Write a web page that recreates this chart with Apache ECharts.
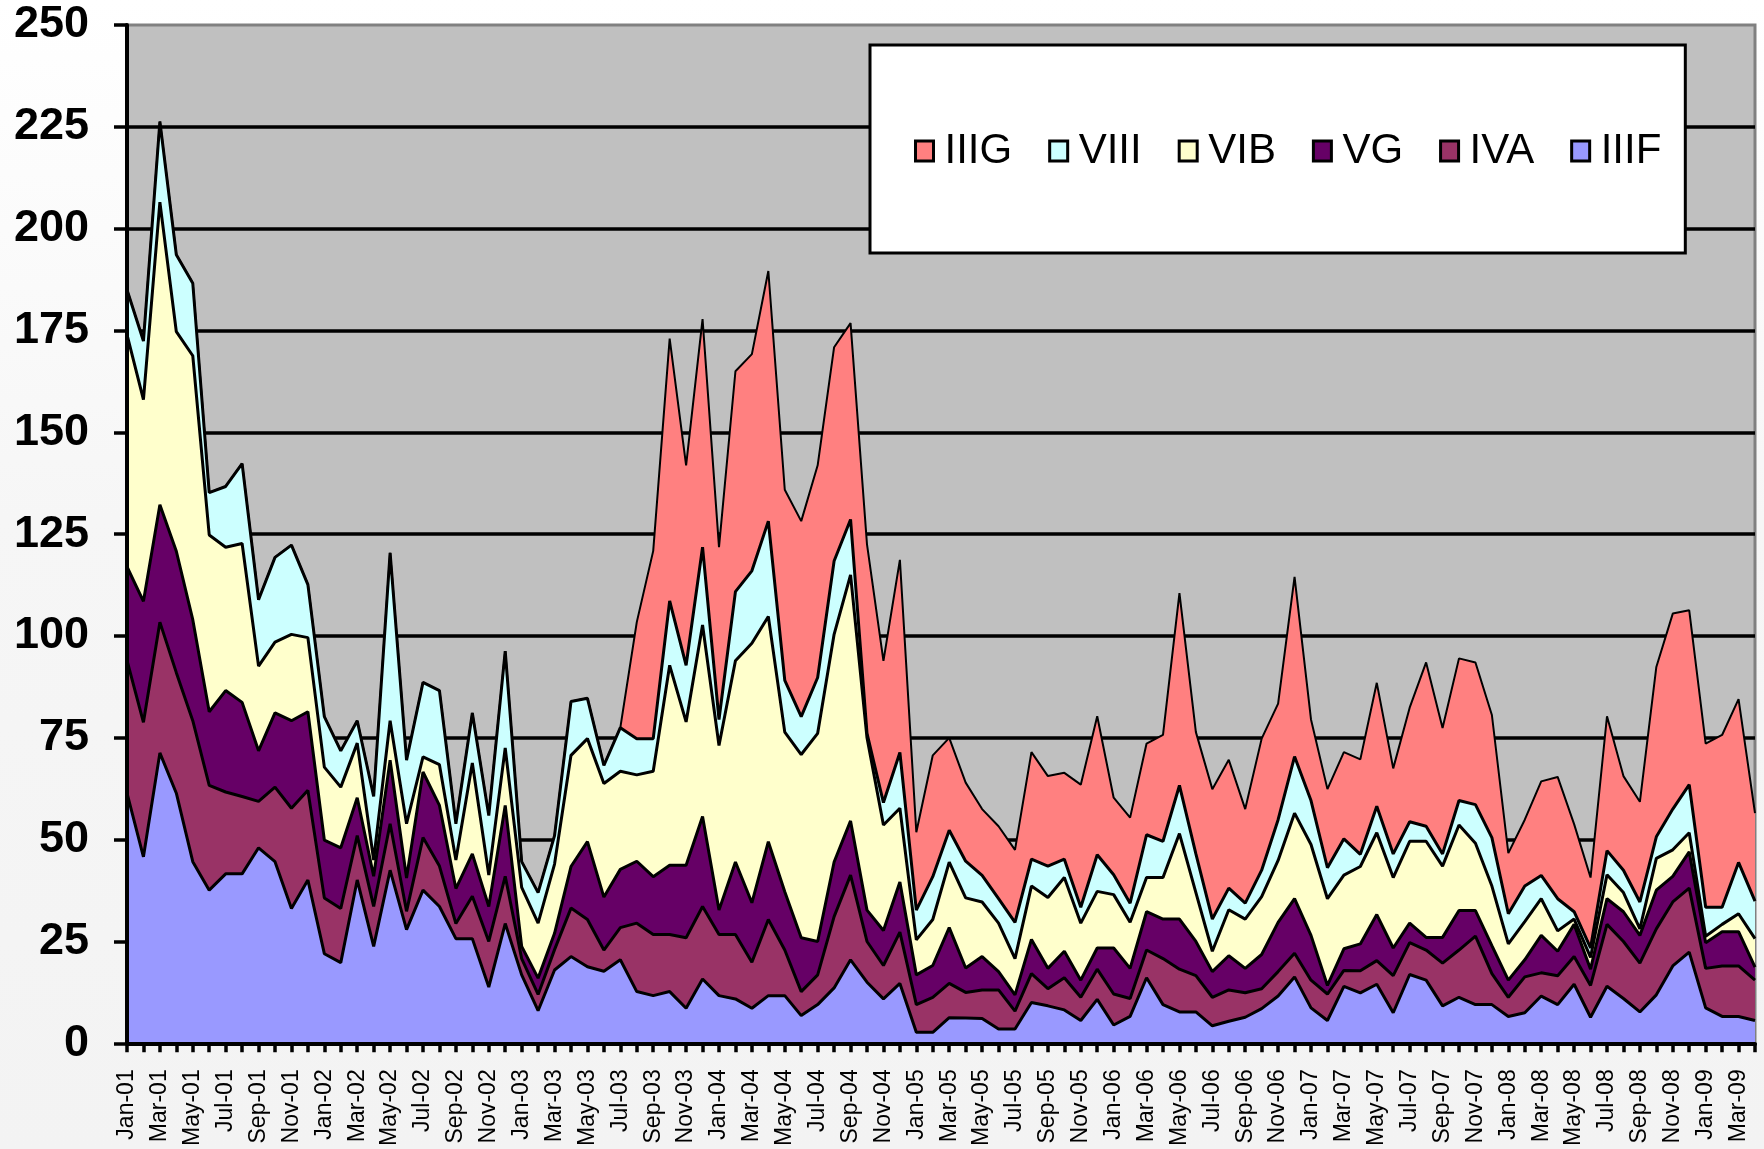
<!DOCTYPE html>
<html>
<head>
<meta charset="utf-8">
<script src="https://cdn.jsdelivr.net/npm/echarts@6/dist/echarts.min.js"></script>
<style>
  html, body { margin: 0; padding: 0; }
  body { background: linear-gradient(to bottom, #ffffff 0%, #f6f6f6 45%, #f3f3f3 100%); }
  #chart { width: 1764px; height: 1149px; }
</style>
</head>
<body>
<div id="chart"></div>
<script>
var months = [
  'Jan-01','Feb-01','Mar-01','Apr-01','May-01','Jun-01','Jul-01','Aug-01','Sep-01','Oct-01','Nov-01','Dec-01',
  'Jan-02','Feb-02','Mar-02','Apr-02','May-02','Jun-02','Jul-02','Aug-02','Sep-02','Oct-02','Nov-02','Dec-02',
  'Jan-03','Feb-03','Mar-03','Apr-03','May-03','Jun-03','Jul-03','Aug-03','Sep-03','Oct-03','Nov-03','Dec-03',
  'Jan-04','Feb-04','Mar-04','Apr-04','May-04','Jun-04','Jul-04','Aug-04','Sep-04','Oct-04','Nov-04','Dec-04',
  'Jan-05','Feb-05','Mar-05','Apr-05','May-05','Jun-05','Jul-05','Aug-05','Sep-05','Oct-05','Nov-05','Dec-05',
  'Jan-06','Feb-06','Mar-06','Apr-06','May-06','Jun-06','Jul-06','Aug-06','Sep-06','Oct-06','Nov-06','Dec-06',
  'Jan-07','Feb-07','Mar-07','Apr-07','May-07','Jun-07','Jul-07','Aug-07','Sep-07','Oct-07','Nov-07','Dec-07',
  'Jan-08','Feb-08','Mar-08','Apr-08','May-08','Jun-08','Jul-08','Aug-08','Sep-08','Oct-08','Nov-08','Dec-08',
  'Jan-09','Feb-09','Mar-09','Apr-09'
];

// stacked from the bottom up
var iiif = [
  61.4,45.8,71.3,61.4,44.6,37.6,41.6,41.6,48,44.6,33.1,40.1,
  22,19.8,40.1,23.8,42.5,27.9,37.6,33.6,25.7,25.7,13.8,29.4,
  16.8,8,18,21.3,18.8,17.7,20.5,12.7,11.7,12.7,8.6,15.8,
  11.7,10.9,8.6,11.7,11.7,6.8,9.5,13.6,20.5,15,10.9,14.7,
  2.7,2.7,6.3,6.2,6.1,3.5,3.5,10,9.2,8.2,5.6,10.8,
  4.5,6.6,16.1,9.5,7.7,7.7,4.3,5.4,6.4,8.5,11.6,16.3,
  8.7,5.6,14,12.4,14.5,7.5,16.9,15.5,9.2,11.3,9.5,9.5,
  6.6,7.5,11.6,9.5,14.5,6.4,14,11,7.7,11.9,19,22.4,
  8.7,6.6,6.6,5.6
];
var iva = [
  32.6,33,32.1,29.6,34.6,25.7,20.1,19,11.4,18.3,24.6,22,
  13.7,13.3,10.9,9.8,11.4,4.5,12.9,9.9,3.7,10.4,11.2,11.6,
  4,4,5,11.9,11.6,5.2,7.9,16.8,15,14,17.3,17.8,
  15,15.8,11.3,18.7,11.2,5.9,7.3,17.5,20.8,10,8.2,12.6,
  6.8,8.6,8.4,6.3,7,9.6,4.4,7.1,4.2,7.9,5.7,7.4,
  7.6,4.4,6.8,11.3,10.5,8.9,7,7.7,6,4.9,6,5.8,
  6.8,6.5,3.9,5.4,5.8,9.1,7.8,7.4,10.5,11.6,16.8,7.6,
  4.7,8.8,5.7,7.1,6.8,7.8,15.2,14,12,16.2,15.7,15.7,
  9.7,12.4,12.4,9.9
];
var vg = [
  23,29.7,28.8,29.8,24.8,18.1,24.9,23.1,12.4,18.2,21.5,19.3,
  14.2,14.9,9.3,7.4,15.6,8.2,16.1,14.9,8.6,10.4,8.6,17.4,
  3,4,4,10.2,19.1,13,14.3,15.2,14.2,17,17.8,22.1,
  6,17.8,14.6,19.1,14.3,13.2,8.2,13.4,13.3,7.7,8.6,12.3,
  7.3,7.8,13.7,6,8.2,4.5,4,8.4,5,6.5,4.2,5.2,
  11.3,7.4,9.4,9.7,12.3,8.4,6.3,8.4,6,8.4,12.1,13.4,
  11,2.1,5.3,6.6,11.3,6.8,4.8,3.1,6.3,9.7,6.3,6.9,
  4.2,4.2,9.2,6,7.9,4,6.3,7.3,6.8,9.5,6.3,8.9,
  6.3,8.4,8.4,3.2
];
var vib = [
  57,49.5,74.3,53.9,64.8,43.4,35.2,39,20.8,17.4,21.2,18.2,
  17.9,14.9,13.4,4,9.7,13.3,3.7,10,7,22.3,7.7,14.1,
  14.5,13.5,17,27.3,25.3,27.9,24.1,21.2,25.9,49.1,35.2,47,
  40.4,49.4,63.7,55.3,39.2,45,51.1,55.9,60.4,42.3,25.9,18.1,
  8.6,11.3,16.1,17.2,13.4,11.9,8.9,13.1,17.4,18.1,14,13.9,
  13.1,11.3,8.4,10.2,21,12,5,11.3,12.1,14.2,15.2,21,
  22.3,21.3,18.1,19,20.1,17.3,20.1,23.6,17.5,21,16.5,14.6,
  8.9,9.4,9,5,1.3,2.9,5.9,4.7,1.6,7.8,6.5,4.7,
  1.6,1.8,4.4,7
];
var viii = [
  11,14.4,19.8,18.9,17.8,10.4,14.9,19.6,16.3,20.8,21.9,13,
  12.4,8.9,5.5,15.6,41.2,15.6,18.3,18.2,8.9,12.3,14.6,23.8,
  6.3,7.5,7,13.2,9.9,4.4,10.7,8.9,8,15.8,13.9,19.1,
  6.4,17,17.8,23.4,12.7,9.3,13.7,18,13.6,1.1,5.5,13.7,
  7.3,10.5,7.8,9,6.5,6,8.9,6.6,7.7,4.5,3.9,9,
  4.9,4.7,10.5,8.9,11.8,9.5,7.9,5.3,3.9,6.5,10,13.9,
  10.8,7.6,8.9,3,6.5,5.8,4.8,3.7,3,6,9.5,11.9,
  7.4,8.7,5.7,7.9,1.8,2.3,5.9,5.5,6.6,5.3,10,11.8,
  7.1,4.2,12.6,9.2
];
var iiig = [
  0,0,0,0,0,0,0,0,0,0,0,0,
  0,0,0,0,0,0,0,0,0,0,0,0,
  0,0,0,0,0,0,0,28.6,46.1,64.4,49.1,56,
  42.3,54.1,53.2,61.4,46.8,48,52.1,52.5,48.2,46.4,34.8,47.3,
  19.1,29.8,22.7,19.3,16.3,17.8,17.8,26.3,22.1,21.2,30.1,34,
  18.9,21,22.4,26.1,47.2,29.9,31.9,31.5,23.1,32.3,28.5,44.1,
  19.9,19.3,21.3,23.3,30.3,21,28,40.2,30.9,34.9,34.9,30.1,
  14.9,16.3,23.1,29.9,21.5,17.3,33,23.1,24.6,41.7,48,42.8,
  40.2,42.3,40.1,21.6
];

var yTicks = { min: 0, max: 250, step: 25 };
var legendOrder = ['IIIG', 'VIII', 'VIB', 'VG', 'IVA', 'IIIF'];

var layers = [
  { name: 'IIIF', data: iiif, color: '#9999FF', width: 3 },
  { name: 'IVA',  data: iva,  color: '#993366', width: 3 },
  { name: 'VG',   data: vg,   color: '#660066', width: 3 },
  { name: 'VIB',  data: vib,  color: '#FFFFCC', width: 3 },
  { name: 'VIII', data: viii, color: '#CCFFFF', width: 3 },
  { name: 'IIIG', data: iiig, color: '#FF8080', width: 2 }
];

var chart = echarts.init(document.getElementById('chart'));

chart.setOption({
  animation: false,
  textStyle: { fontFamily: "'Liberation Sans', Arial, sans-serif" },
  grid: {
    left: 127, right: 9, top: 25, bottom: 105,
    show: true,
    backgroundColor: '#C0C0C0',
    borderColor: '#808080',
    borderWidth: 3
  },
  legend: {
    data: legendOrder,
    left: 870,
    top: 45,
    orient: 'horizontal',
    icon: 'rect',
    itemWidth: 18,
    itemHeight: 20,
    itemGap: 36,
    padding: [84, 24, 80, 44],
    backgroundColor: '#ffffff',
    borderColor: '#000000',
    borderWidth: 3,
    borderRadius: 0,
    itemStyle: { borderColor: '#000', borderWidth: 3 },
    textStyle: {
      color: '#000',
      fontSize: 42,
      lineHeight: 44,
      padding: [0, 0, 0, 6],
      fontFamily: "'Liberation Sans', Arial, sans-serif"
    }
  },
  xAxis: {
    type: 'category',
    data: months,
    boundaryGap: false,
    z: 20,
    axisLine: { lineStyle: { color: '#000', width: 4 } },
    axisTick: { show: true, interval: 0, length: 9, lineStyle: { color: '#000', width: 3.5 } },
    axisLabel: {
      interval: 1,
      rotate: 90,
      margin: 26,
      color: '#000',
      fontSize: 23,
      fontFamily: "'Liberation Sans', Arial, sans-serif"
    },
    splitLine: { show: false }
  },
  yAxis: [
    {
      type: 'value',
      min: yTicks.min, max: yTicks.max, interval: yTicks.step,
      z: 20,
      axisLine: { show: true, lineStyle: { color: '#000', width: 4 } },
      axisTick: { show: true, length: 13, lineStyle: { color: '#000', width: 3.5 } },
      axisLabel: {
        margin: 38,
        color: '#000',
        fontSize: 45,
        fontWeight: 'bold',
        fontFamily: "'Liberation Sans', Arial, sans-serif"
      },
      splitLine: { show: false }
    },
    {
      type: 'value',
      min: yTicks.min, max: yTicks.max, interval: yTicks.step,
      z: 1,
      axisLine: { show: false },
      axisTick: { show: false },
      axisLabel: { show: false },
      splitLine: { show: true, showMaxLine: false, lineStyle: { color: '#000', width: 3.5 } }
    }
  ],
  series: layers.map(function (s, i) {
    return {
      name: s.name,
      type: 'line',
      stack: 'total',
      data: s.data,
      yAxisIndex: 0,
      z: 10 - i,
      symbol: 'none',
      color: s.color,
      itemStyle: { color: s.color },
      lineStyle: { color: '#000', width: s.width },
      areaStyle: { color: s.color, opacity: 1 }
    };
  })
});
</script>
</body>
</html>
